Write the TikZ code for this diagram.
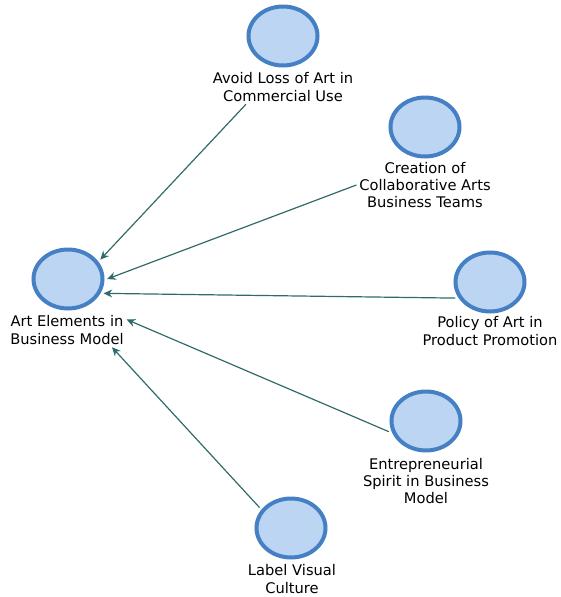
\documentclass[tikz,border=0pt]{standalone}
\usepackage{fontspec}
\setmainfont{DejaVu Sans}
\usetikzlibrary{shapes.geometric,arrows.meta}
\definecolor{bubblefill}{HTML}{BCD5F2}
\definecolor{bubbleline}{HTML}{4580C4}
\definecolor{linkcol}{HTML}{2F6B6B}
\begin{document}
\begin{tikzpicture}[x=0.75pt,y=-0.75pt,
        bubble/.style={ellipse,draw=bubbleline,fill=bubblefill,line width=3pt,
            minimum width=51.75pt,minimum height=44.25pt,inner sep=0pt,outer sep=3.5pt},
        caption/.style={align=center,font=\fontsize{11}{13}\selectfont,inner sep=2pt},
        link/.style={draw=linkcol,line width=0.9pt,-{Stealth[length=6.5pt,width=6pt]}}]
                \useasboundingbox (0,0) rectangle (561,597);

                \node[bubble] (art) at (68,279) {};
                \node[bubble] (avoid) at (283,36) {};
                \node[bubble] (collab) at (425,127) {};
                \node[bubble] (policy) at (490,282) {};
                \node[bubble] (spirit) at (426,421) {};
                \node[bubble] (visual) at (291,528) {};

                \node[caption] (artlbl) at (67,330) {Art Elements in\\Business Model};
                \node[caption] (avoidlbl) at (283,87) {Avoid Loss of Art in\\Commercial Use};
                \node[caption] (collablbl) at (425,185) {Creation of\\Collaborative Arts\\Business Teams};
                \node[caption] (policylbl) at (490,331) {Policy of Art in\\Product Promotion};
                \node[caption] (spiritlbl) at (426,481) {Entrepreneurial\\Spirit in Business\\Model};
                \node[caption] (visuallbl) at (292,579) {Label Visual\\Culture};

                \draw[link] (avoidlbl.-155) to (art.31);
                \draw[link] (collablbl.west) to (art.east);
                \draw[link] (policy.205) to (art.-22);
                \draw[link] (spirit.196) to (artlbl.10);
                \draw[link] (visual.147) to (artlbl.-21);
            \end{tikzpicture}
\end{document}
